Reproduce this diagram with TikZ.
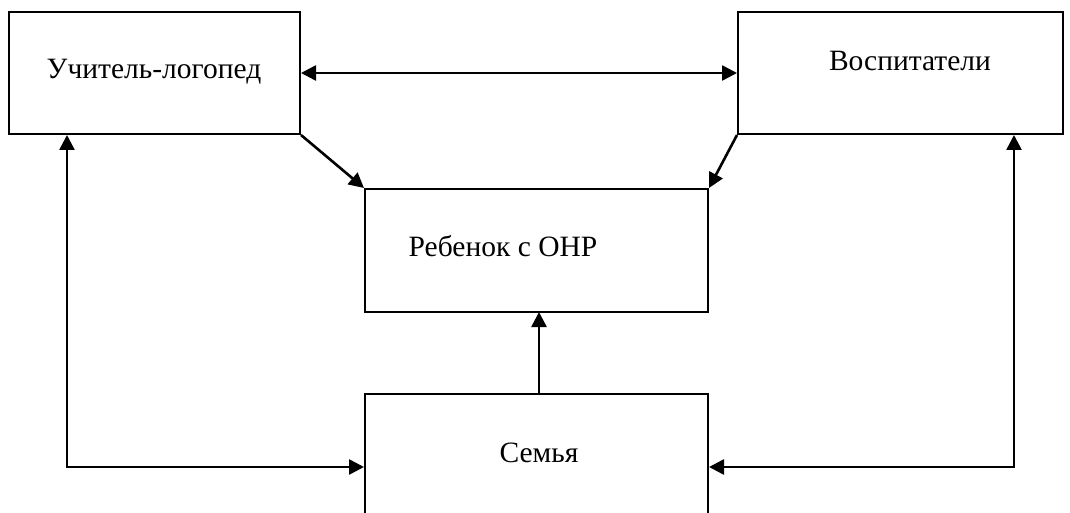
\documentclass[tikz,border=0pt]{standalone}
\usepackage{fontspec}
\setmainfont{Liberation Serif}
\usetikzlibrary{arrows.meta}
\begin{document}
\begin{tikzpicture}[x=1pt,y=-1pt,
  box/.style={draw,line width=2pt,rectangle,inner sep=0pt},
  lbl/.style={font=\fontsize{29.5}{32}\selectfont,inner sep=0pt},
  arr/.style={line width=2.6pt,-{Triangle[length=15pt,width=15pt]}},
  darr/.style={line width=2.6pt,{Triangle[length=15pt,width=15pt]}-{Triangle[length=15pt,width=15pt]}}]
\useasboundingbox (0,0) rectangle (1070,513);
\node[box,minimum width=291pt,minimum height=122pt] (A) at (154.5,73) {};
\node[box,minimum width=325pt,minimum height=122pt] (B) at (900.5,73) {};
\node[box,minimum width=343pt,minimum height=123pt] (C) at (536.5,250.5) {};
\node[box,minimum width=343pt,minimum height=146pt] (D) at (536.5,467) {};
\node[lbl] (tA) at (154,72) {Учитель-логопед};
\node[lbl] (tB) at (910,61) {Воспитатели};
\node[lbl] (tC) at (503,246) {Ребенок с ОНР};
\node[lbl] (tD) at (539,453) {Семья};
\draw[darr] (A.east) -- (B.west);
\draw[arr] (A.south east) -- (C.north west);
\draw[arr] (B.south west) -- (C.north east);
\coordinate (dtop) at (539,394);
\coordinate (cbot) at (539,312);
\draw[arr] (dtop) -- (cbot);
\coordinate (la) at (67,467);
\coordinate (ra) at (1014,467);
\draw[darr] (la |- A.south) -- (la) -- (D.west);
\draw[darr] (ra |- B.south) -- (ra) -- (D.east);
\end{tikzpicture}
\end{document}
